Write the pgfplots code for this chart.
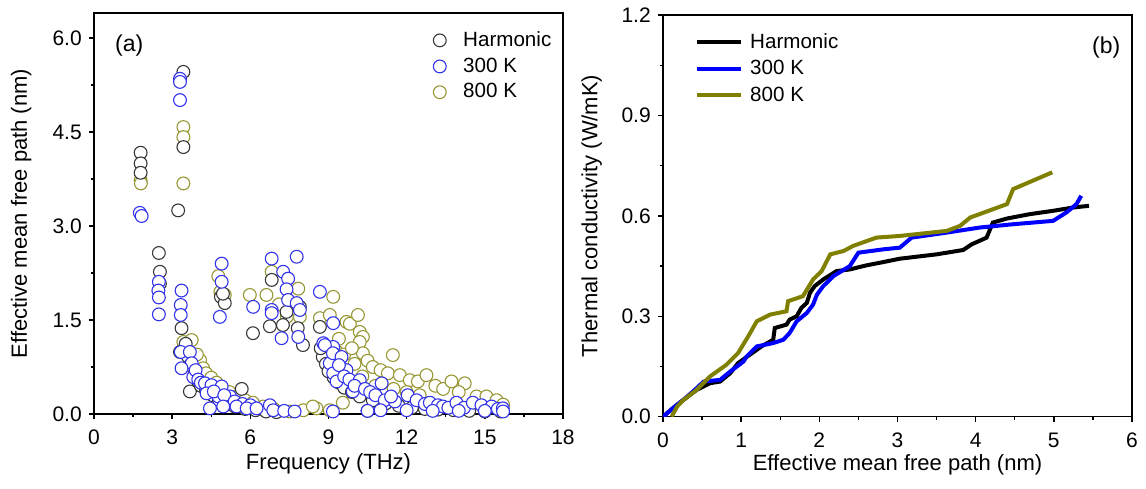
\documentclass[border=0pt]{standalone}
\usepackage{fontspec}
\setmainfont{Liberation Sans}
\usepackage{pgfplots}
\pgfplotsset{compat=1.18}
\definecolor{cblack}{RGB}{55,55,55}
\definecolor{cblue}{RGB}{50,50,235}
\definecolor{colive}{RGB}{150,150,50}
\definecolor{lblue}{RGB}{0,0,255}
\definecolor{lolive}{RGB}{128,128,0}
\pgfplotsset{
  myaxis/.style={
    scale only axis,
    axis line style={line width=0.7pt},
    tick align=outside,
    tick pos=left,
    major tick length=2.6pt,
    minor tick length=1.6pt,
    every tick/.style={line width=0.7pt, black},
    minor x tick num=1,
    minor y tick num=1,
    /pgf/number format/assume math mode=true,
    ticklabel style={font=\fontsize{10.5}{12}\selectfont},
    xticklabel style={yshift=-2pt},
    label style={font=\fontsize{11}{13}\selectfont},
    legend cell align=left,
  },
  sc/.style={only marks, mark=*, mark size=3.2pt, mark options={fill=white, draw=#1, line width=0.55pt}},
}
\begin{document}
\begin{tikzpicture}
\useasboundingbox (-47pt,-37pt) rectangle (526pt,207pt);
% ---------------- (a) ----------------
\begin{axis}[myaxis,
  at={(0pt,0pt)}, anchor=south west,
  width=234.5pt, height=200.5pt,
  xmin=0, xmax=18, ymin=0, ymax=6.4,
  xtick={0,3,...,18},
  ytick={0,1.5,3,4.5,6},
  yticklabel style={/pgf/number format/.cd, fixed, fixed zerofill, precision=1},
  xlabel={Frequency (THz)},
  ylabel={Effective mean free path (nm)},
  xlabel style={at={(axis description cs:0.5,-0.125)}, anchor=center},
  ylabel style={at={(axis description cs:-0.155,0.5)}, anchor=center},
  legend style={draw=none, fill=none, at={(0.71,0.975)}, anchor=north west,
    font=\fontsize{10.3}{12}\selectfont, row sep=0.2pt,
    /tikz/every odd column/.append style={column sep=6.5pt}},
]
\addlegendimage{sc=cblack}
\addlegendentry{Harmonic}
\addlegendimage{sc=cblue}
\addlegendentry{300 K}
\addlegendimage{sc=colive}
\addlegendentry{800 K}
% 800 K
\addplot[sc=colive, forget plot] table {
1.79 3.73
1.80 3.68
3.43 4.58
3.43 4.42
3.43 3.68
3.43 1.15
3.75 1.18
4.07 0.86
4.19 0.73
3.95 0.95
4.30 0.65
4.50 0.58
4.70 0.50
4.90 0.42
5.20 0.35
5.50 0.28
5.80 0.22
6.10 0.18
6.50 0.12
6.90 0.08
4.77 2.20
5.02 1.90
4.85 1.95
5.98 1.90
6.62 1.90
6.82 2.27
7.84 2.00
7.90 1.55
7.40 1.55
7.10 1.75
9.18 1.87
8.67 1.53
9.05 1.58
7.52 0.04
8.03 0.06
8.54 0.09
9.05 0.06
8.40 0.12
9.55 0.18
9.69 1.47
9.82 1.44
10.13 1.58
10.20 1.31
10.32 1.23
10.20 1.15
10.32 0.97
9.40 1.20
9.30 1.00
9.60 0.95
9.90 1.05
10.00 0.80
10.50 0.85
10.70 0.75
11.00 0.70
11.47 0.94
11.28 0.65
11.74 0.62
12.12 0.54
12.43 0.52
12.76 0.62
13.10 0.45
13.40 0.40
13.72 0.52
14.23 0.49
14.00 0.35
14.68 0.28
15.06 0.28
15.45 0.22
15.70 0.15
10.80 0.45
11.50 0.40
12.00 0.35
12.50 0.30
10.30 0.60
};
% Harmonic
\addplot[sc=cblack, forget plot] table {
1.79 4.17
1.79 4.00
1.79 3.85
2.49 2.57
2.53 2.27
2.53 2.08
3.23 3.25
3.43 5.46
3.43 4.26
3.36 1.37
3.30 0.99
3.52 1.12
3.60 0.92
3.68 0.36
3.70 0.78
3.85 0.62
3.95 0.55
4.10 0.45
4.30 0.38
4.55 0.30
4.80 0.22
5.10 0.16
5.40 0.12
5.67 0.40
5.80 0.08
6.20 0.06
6.60 0.04
7.00 0.03
4.87 1.87
5.02 1.77
4.95 1.92
6.10 1.29
6.82 2.14
6.75 1.40
7.39 1.63
7.25 1.42
7.82 1.37
8.02 1.10
7.90 1.71
8.67 1.39
8.78 0.91
8.70 1.05
8.90 0.80
9.00 0.68
9.20 0.58
9.40 0.50
9.60 0.42
9.90 0.35
10.20 0.28
10.50 0.05
10.70 0.22
11.20 0.17
11.70 0.13
12.20 0.10
12.70 0.08
13.20 0.07
13.80 0.06
14.40 0.05
15.00 0.04
15.60 0.04
};
% 300 K
\addplot[sc=cblue, forget plot] table {
1.76 3.21
1.83 3.16
2.49 2.11
2.47 1.97
2.49 1.86
2.49 1.59
3.30 5.35
3.30 5.30
3.30 5.01
3.36 1.97
3.33 1.74
3.33 1.58
3.33 0.99
3.68 0.99
3.75 0.81
3.36 0.73
3.81 0.59
3.90 0.70
4.00 0.55
4.10 0.50
4.26 0.49
4.51 0.46
4.77 0.28
4.90 0.44
5.22 0.28
4.32 0.33
4.60 0.36
5.00 0.30
5.40 0.20
5.70 0.16
6.00 0.14
4.45 0.09
4.96 0.12
5.47 0.12
5.86 0.09
6.24 0.09
6.75 0.14
6.88 0.06
7.30 0.05
7.70 0.04
4.90 2.40
4.90 2.11
4.83 1.55
6.11 1.71
6.82 2.48
6.82 1.66
6.82 1.61
7.26 2.27
7.45 2.16
7.39 1.99
7.45 1.82
7.78 1.77
7.90 1.66
7.78 2.51
7.20 1.21
7.84 1.23
8.67 1.95
9.18 1.45
8.80 1.13
9.18 1.07
9.05 0.81
9.18 0.65
9.31 0.52
8.86 1.10
9.17 0.97
9.50 0.91
9.69 0.70
9.40 0.78
9.60 0.60
9.80 0.55
10.20 0.54
9.93 0.36
10.00 0.45
10.40 0.40
10.60 0.35
10.80 0.30
11.04 0.49
11.16 0.22
11.55 0.20
11.40 0.28
12.04 0.30
12.38 0.22
12.70 0.16
12.89 0.18
13.20 0.14
13.39 0.12
13.60 0.10
13.91 0.18
14.20 0.10
14.54 0.18
14.87 0.14
15.26 0.12
15.50 0.08
15.69 0.09
10.50 0.05
11.00 0.06
12.00 0.06
13.00 0.05
14.00 0.05
15.00 0.05
15.70 0.04
9.17 0.04
};
\node[anchor=west, font=\fontsize{11.5}{13}\selectfont] at (axis description cs:0.03,0.92) {(a)};
\end{axis}
% ---------------- (b) ----------------
\begin{axis}[myaxis,
  at={(284.5pt,-1.35pt)}, anchor=south west,
  width=234.5pt, height=200.85pt,
  xmin=0, xmax=6, ymin=0, ymax=1.2,
  xtick={0,1,...,6},
  ytick={0,0.3,0.6,0.9,1.2},
  yticklabel style={/pgf/number format/.cd, fixed, fixed zerofill, precision=1},
  xlabel={Effective mean free path (nm)},
  ylabel={Thermal conductivity (W/mK)},
  xlabel style={at={(axis description cs:0.5,-0.12)}, anchor=center},
  ylabel style={at={(axis description cs:-0.152,0.5)}, anchor=center},
  legend style={draw=none, fill=none, at={(0.055,0.975)}, anchor=north west,
    font=\fontsize{10.3}{12}\selectfont, row sep=0.5pt,
    /tikz/every odd column/.append style={column sep=1.5pt}},
  legend image code/.code={\draw[#1, line width=2pt] (0pt,0pt) -- (22pt,0pt);},
]
\addplot[black, line width=2pt] table {
0.00 0.000
0.15 0.030
0.26 0.050
0.43 0.080
0.60 0.100
0.73 0.105
0.86 0.130
0.96 0.160
1.11 0.185
1.26 0.210
1.41 0.230
1.43 0.265
1.58 0.275
1.62 0.290
1.71 0.300
1.77 0.325
1.84 0.340
1.88 0.370
1.94 0.390
2.05 0.410
2.22 0.435
2.39 0.440
2.60 0.452
2.82 0.462
3.03 0.472
3.50 0.485
3.84 0.498
3.95 0.515
4.14 0.535
4.22 0.580
4.40 0.592
4.69 0.605
4.99 0.615
5.25 0.625
5.45 0.630
};
\addlegendentry{Harmonic}
\addplot[lblue, line width=2pt] table {
0.00 0.000
0.15 0.030
0.26 0.050
0.43 0.085
0.52 0.105
0.73 0.110
0.86 0.135
1.03 0.165
1.07 0.180
1.20 0.210
1.41 0.220
1.54 0.230
1.62 0.250
1.71 0.285
1.84 0.310
1.92 0.335
1.97 0.365
2.05 0.390
2.18 0.420
2.39 0.450
2.50 0.490
2.82 0.500
3.03 0.505
3.18 0.535
3.63 0.550
4.05 0.565
4.48 0.575
4.99 0.585
5.16 0.610
5.29 0.635
5.35 0.660
};
\addlegendentry{300 K}
\addplot[lolive, line width=2pt] table {
0.11 0.000
0.18 0.030
0.26 0.050
0.43 0.080
0.60 0.120
0.81 0.155
0.96 0.190
1.09 0.240
1.20 0.285
1.37 0.305
1.58 0.315
1.60 0.345
1.79 0.360
1.92 0.410
2.03 0.435
2.14 0.485
2.31 0.495
2.43 0.510
2.73 0.535
3.03 0.540
3.63 0.555
3.80 0.570
3.93 0.595
4.40 0.635
4.48 0.680
4.98 0.730
};
\addlegendentry{800 K}
\node[anchor=west, font=\fontsize{11.5}{13}\selectfont] at (axis description cs:0.90,0.92) {(b)};
\end{axis}
\end{tikzpicture}
\end{document}
